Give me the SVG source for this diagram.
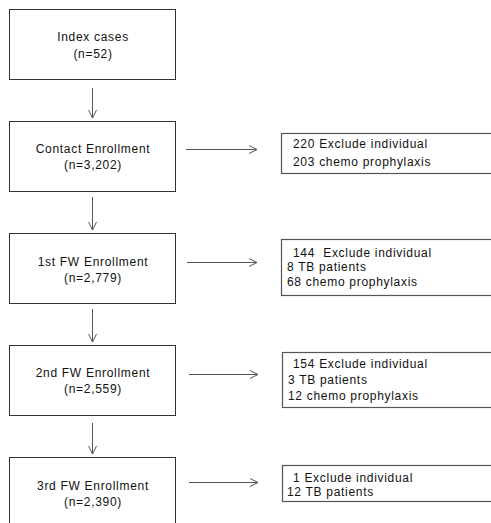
<svg xmlns="http://www.w3.org/2000/svg" width="491" height="523" viewBox="0 0 491 523">
<defs>
<marker id="ah" markerWidth="10" markerHeight="10" refX="9" refY="5" orient="auto" markerUnits="userSpaceOnUse">
<path d="M1,1 L9,5 L1,9" fill="none" stroke="#555" stroke-width="1"/>
</marker>
</defs>
<style>
.box{fill:#fff;stroke:#333;stroke-width:1}
.sbox{fill:#fff;stroke:#555;stroke-width:1.2}
.c{stroke:#555;stroke-width:1;fill:none;marker-end:url(#ah)}
text{font-family:"Liberation Sans",Arial,sans-serif;font-size:12px;fill:#111;letter-spacing:0.7px}
.m{text-anchor:middle}
</style>
<rect width="491" height="523" fill="#fff"/>
<g id="connectors">
<line class="c" x1="92.5" y1="88" x2="92.5" y2="118"/>
<line class="c" x1="92.5" y1="197" x2="92.5" y2="230"/>
<line class="c" x1="92.5" y1="309" x2="92.5" y2="342"/>
<line class="c" x1="92.5" y1="423" x2="92.5" y2="454"/>
<line class="c" x1="186" y1="149.5" x2="257" y2="149.5"/>
<line class="c" x1="187" y1="262.5" x2="257" y2="262.5"/>
<line class="c" x1="189" y1="374.5" x2="258" y2="374.5"/>
<line class="c" x1="189" y1="482.5" x2="258" y2="482.5"/>
</g>
<g id="index">
<rect class="box" x="9.5" y="9.5" width="166" height="70"/>
<text class="m" x="93" y="41">Index cases</text>
<text class="m" x="93" y="58">(n=52)</text>
</g>
<g id="contact">
<rect class="box" x="9.5" y="121.5" width="166" height="70"/>
<text class="m" x="93" y="153">Contact Enrollment</text>
<text class="m" x="93" y="169">(n=3,202)</text>
</g>
<g id="fw1">
<rect class="box" x="9.5" y="233.5" width="166" height="70"/>
<text class="m" x="93" y="266">1st FW Enrollment</text>
<text class="m" x="93" y="282">(n=2,779)</text>
</g>
<g id="fw2">
<rect class="box" x="9.5" y="345.5" width="166" height="70"/>
<text class="m" x="93" y="377">2nd FW Enrollment</text>
<text class="m" x="93" y="393">(n=2,559)</text>
</g>
<g id="fw3">
<rect class="box" x="9.5" y="457.5" width="166" height="70"/>
<text class="m" x="93" y="490">3rd FW Enrollment</text>
<text class="m" x="93" y="506">(n=2,390)</text>
</g>
<g id="ex1">
<rect class="sbox" x="281.5" y="133.5" width="220" height="40"/>
<text x="293" y="148">220 Exclude individual</text>
<text x="293" y="165.5">203 chemo prophylaxis</text>
</g>
<g id="ex2">
<rect class="sbox" x="281.5" y="239.5" width="220" height="56"/>
<text x="293" y="256.5" xml:space="preserve">144  Exclude individual</text>
<text x="287" y="271">8 TB patients</text>
<text x="287" y="285.5">68 chemo prophylaxis</text>
</g>
<g id="ex3">
<rect class="sbox" x="282.5" y="352.5" width="220" height="55"/>
<text x="293" y="368">154 Exclude individual</text>
<text x="288" y="384">3 TB patients</text>
<text x="288" y="400">12 chemo prophylaxis</text>
</g>
<g id="ex4">
<rect class="sbox" x="282.5" y="465.5" width="220" height="36"/>
<text x="293" y="481.5">1 Exclude individual</text>
<text x="287" y="496">12 TB patients</text>
</g>
</svg>
